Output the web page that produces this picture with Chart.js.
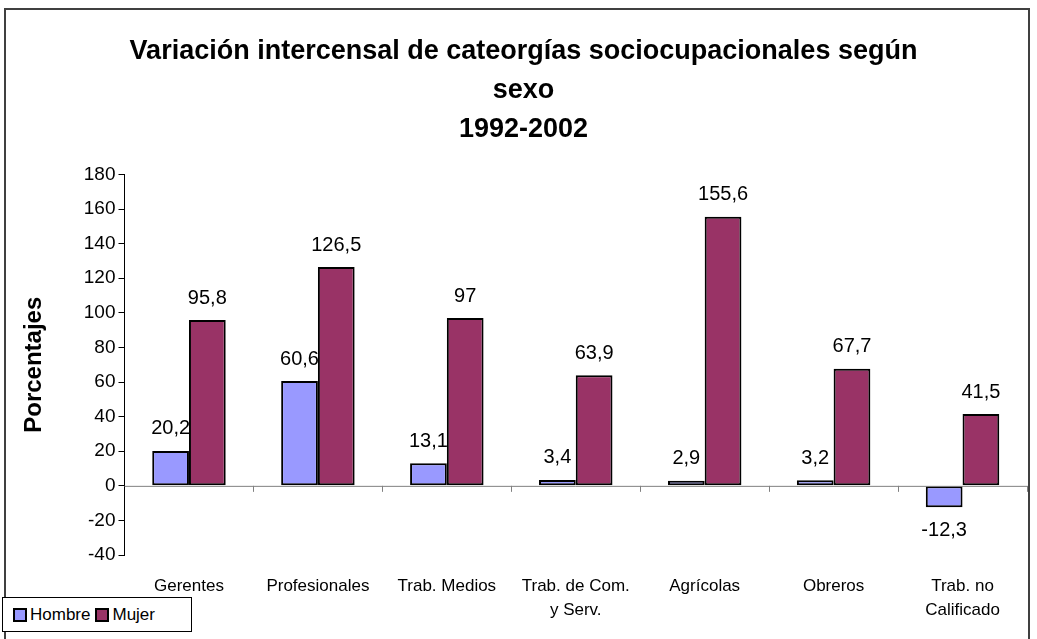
<!DOCTYPE html>
<html lang="es">
<head>
    <meta charset="UTF-8">
    <title>Variación intercensal de categorías sociocupacionales según sexo</title>
    <script src="https://cdn.jsdelivr.net/npm/chart.js@4.4.3/dist/chart.umd.min.js"></script>
    <style>
        html, body { margin: 0; padding: 0; background: #fff; }
        .wrap { position: relative; width: 1037px; height: 639px; overflow: hidden; font-family: "Liberation Sans", Arial, sans-serif; }
        .frame { position: absolute; left: 4px; top: 8px; width: 1026px; height: 640px; border: 2px solid #404040; box-sizing: border-box; }
        #chart { position: absolute; left: 0; top: 0; }
        .legend { position: absolute; left: 2px; top: 597px; width: 190px; height: 35px; border: 1px solid #000; background: #fff;
                  box-sizing: border-box; display: flex; align-items: center; padding-left: 10px; font-size: 17px; color: #000; }
        .legend .sw { display: inline-block; width: 10px; height: 10px; border: 2px solid #000; margin-right: 3px; }
        .legend .item { display: flex; align-items: center; margin-right: 5px; }
    </style>
</head>
<body>
<div class="wrap">
    <div class="frame"></div>
    <canvas id="chart" width="1037" height="641"></canvas>
    <div class="legend">
        <span class="item"><span class="sw" style="background:#9999FF"></span>Hombre</span>
        <span class="item"><span class="sw" style="background:#993366"></span>Mujer</span>
    </div>
</div>
<script>
    // Data
    const categories = ['Gerentes', 'Profesionales', 'Trab. Medios', ['Trab. de Com.', 'y Serv.'], 'Agrícolas', 'Obreros', ['Trab. no', 'Calificado']];
    const hombre = [20.2, 60.6, 13.1, 3.4, 2.9, 3.2, -12.3];
    const mujer = [95.8, 126.5, 97, 63.9, 155.6, 67.7, 41.5];
    const yTicks = [-40, -20, 0, 20, 40, 60, 80, 100, 120, 140, 160, 180];

    const fmt = (v) => String(v).replace('.', ',');

    // Zero line with category tick marks + value labels
    const extras = {
        id: 'extras',
        afterDatasetsDraw(chart) {
            const ctx = chart.ctx;
            const x = chart.scales.x;
            const y = chart.scales.y;
            const area = chart.chartArea;
            const y0 = y.getPixelForValue(0);
            ctx.save();
            ctx.strokeStyle = '#808080';
            ctx.lineWidth = 1;
            ctx.beginPath();
            ctx.moveTo(area.left, y0 + 0.5);
            ctx.lineTo(area.right, y0 + 0.5);
            const step = x.getPixelForValue(1) - x.getPixelForValue(0);
            for (let i = 1; i <= categories.length; i++) {
                const px = Math.round(area.left + i * step) + 0.5;
                ctx.moveTo(px, y0);
                ctx.lineTo(px, y0 + 6);
            }
            ctx.stroke();

            ctx.fillStyle = '#000';
            ctx.font = '20px "Liberation Sans", Arial, sans-serif';
            ctx.textAlign = 'center';
            ctx.textBaseline = 'middle';
            chart.data.datasets.forEach((ds, di) => {
                chart.getDatasetMeta(di).data.forEach((bar, i) => {
                    const v = ds.data[i];
                    const ty = v >= 0 ? bar.y - 22 : bar.y + 23;
                    ctx.fillText(fmt(v), bar.x, ty);
                });
            });
            ctx.restore();
        }
    };

    new Chart(document.getElementById('chart'), {
        type: 'bar',
        data: {
            labels: categories,
            datasets: [
                { label: 'Hombre', data: hombre, backgroundColor: '#9999FF', borderColor: '#000', borderWidth: 2, borderSkipped: false },
                { label: 'Mujer', data: mujer, backgroundColor: '#993366', borderColor: '#000', borderWidth: 2, borderSkipped: false }
            ]
        },
        options: {
            responsive: false,
            animation: false,
            layout: { padding: { left: 20, right: 10, top: 32, bottom: 0 } },
            datasets: { bar: { categoryPercentage: 0.57, barPercentage: 1 } },
            plugins: {
                legend: { display: false },
                tooltip: { enabled: false },
                title: {
                    display: true,
                    text: ['Variación intercensal de cateorgías sociocupacionales según', 'sexo', '1992-2002'],
                    color: '#000',
                    font: { family: '"Liberation Sans", Arial, sans-serif', size: 27, weight: 'bold', lineHeight: 1.45 },
                    padding: { top: 0, bottom: 25 }
                }
            },
            scales: {
                x: {
                    grid: { display: false, drawTicks: false },
                    border: { display: false },
                    ticks: {
                        color: '#000',
                        padding: 19,
                        maxRotation: 0,
                        autoSkip: false,
                        font: { family: '"Liberation Sans", Arial, sans-serif', size: 17, lineHeight: 1.41 }
                    }
                },
                y: {
                    min: -40,
                    max: 180,
                    afterBuildTicks: (scale) => { scale.ticks = yTicks.map(v => ({ value: v })); },
                    grid: { drawOnChartArea: false, tickLength: 6, color: '#000' },
                    border: { display: true, color: '#000' },
                    ticks: {
                        color: '#000',
                        padding: 3,
                        font: { family: '"Liberation Sans", Arial, sans-serif', size: 19 }
                    },
                    title: {
                        display: true,
                        text: 'Porcentajes',
                        color: '#000',
                        font: { family: '"Liberation Sans", Arial, sans-serif', size: 24, weight: 'bold' },
                        padding: { top: 0, bottom: 32 }
                    }
                }
            }
        },
        plugins: [extras]
    });
</script>
</body>
</html>
